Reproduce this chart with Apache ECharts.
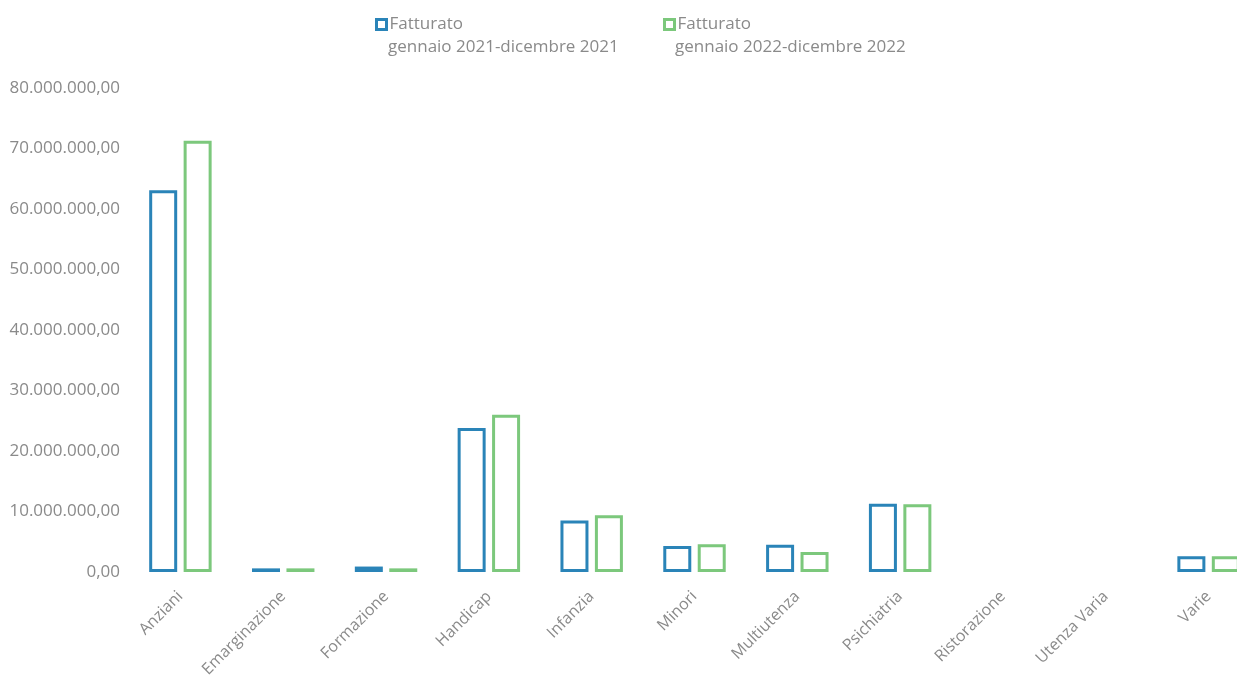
<!DOCTYPE html>
<html>
<head>
<meta charset="utf-8">
<style>
  html, body { margin: 0; padding: 0; background: #ffffff; }
  #chart { width: 1237px; height: 677px; }
</style>
<script src="https://cdn.jsdelivr.net/npm/echarts@6/dist/echarts.min.js"></script>
</head>
<body>
<div id="chart"></div>
<script>
// Categories of service
const categories = ['Anziani', 'Emarginazione', 'Formazione', 'Handicap', 'Infanzia', 'Minori',
  'Multiutenza', 'Psichiatria', 'Ristorazione', 'Utenza Varia', 'Varie'];

// Revenue (EUR) per category
const fatturato2021 = [63100000, 600000, 900000, 23800000, 8500000, 4300000, 4500000, 11300000, 0, 0, 2600000];
const fatturato2022 = [71300000, 600000, 600000, 26000000, 9400000, 4600000, 3300000, 11200000, 0, 0, 2600000];

// Legend text
const legendTitle = 'Fatturato';
const period2021 = 'gennaio 2021-dicembre 2021';
const period2022 = 'gennaio 2022-dicembre 2022';

// Y axis range
const yMin = 0, yMax = 80000000, yStep = 10000000;

const BLUE = '#2a84b8';
const GREEN = '#7cc87c';
const GREY = '#8a8a8a';
const FONT = 'Open Sans';

function formatIt(v) {
  const parts = Math.round(v).toString().replace(/\B(?=(\d{3})+(?!\d))/g, '.');
  return parts + ',00';
}

// Empty categories get no outline at all
function barData(values) {
  return values.map(function (v) {
    return v === 0 ? { value: v, itemStyle: { borderWidth: 0, opacity: 0 } } : v;
  });
}

const name2021 = legendTitle + ' ' + period2021;
const name2022 = legendTitle + ' ' + period2022;

const chart = echarts.init(document.getElementById('chart'), null, { renderer: 'canvas' });

const legendBase = {
  orient: 'horizontal',
  top: 11,
  icon: 'rect',
  itemWidth: 10,
  itemHeight: 10,
  itemGap: 0,
  selectedMode: false,
  itemStyle: { borderWidth: 3 },
  formatter: function () { return legendTitle; },
  textStyle: { color: GREY, fontFamily: FONT, fontSize: 17, padding: [0, 0, 0, -2] }
};

chart.setOption({
  animation: false,
  backgroundColor: '#ffffff',
  legend: [
    Object.assign({}, legendBase, { left: 370, data: [name2021] }),
    Object.assign({}, legendBase, { left: 658, data: [name2022] })
  ],
  graphic: [
    { type: 'text', left: 388, top: 39, style: { text: period2021, fill: GREY, font: '17px "' + FONT + '"' } },
    { type: 'text', left: 675, top: 39, style: { text: period2022, fill: GREY, font: '17px "' + FONT + '"' } }
  ],
  grid: { left: 129, width: 1131, top: 88, bottom: 105, outerBoundsMode: 'none', containLabel: false },
  xAxis: {
    type: 'category',
    data: categories,
    axisLine: { show: false },
    axisTick: { show: false },
    axisLabel: {
      rotate: 45,
      interval: 0,
      margin: 22,
      color: GREY,
      fontFamily: FONT,
      fontSize: 16
    }
  },
  yAxis: {
    type: 'value',
    min: yMin,
    max: yMax,
    interval: yStep,
    splitLine: { show: false },
    axisLine: { show: false },
    axisTick: { show: false },
    axisLabel: {
      margin: 9,
      color: GREY,
      fontFamily: FONT,
      fontSize: 17,
      formatter: formatIt
    }
  },
  series: [
    {
      name: name2021,
      type: 'bar',
      data: barData(fatturato2021),
      barWidth: 28,
      barGap: '23%',
      itemStyle: { color: '#ffffff', borderColor: BLUE, borderWidth: 3 }
    },
    {
      name: name2022,
      type: 'bar',
      data: barData(fatturato2022),
      barWidth: 28,
      itemStyle: { color: '#ffffff', borderColor: GREEN, borderWidth: 3 }
    }
  ]
});
</script>
</body>
</html>
